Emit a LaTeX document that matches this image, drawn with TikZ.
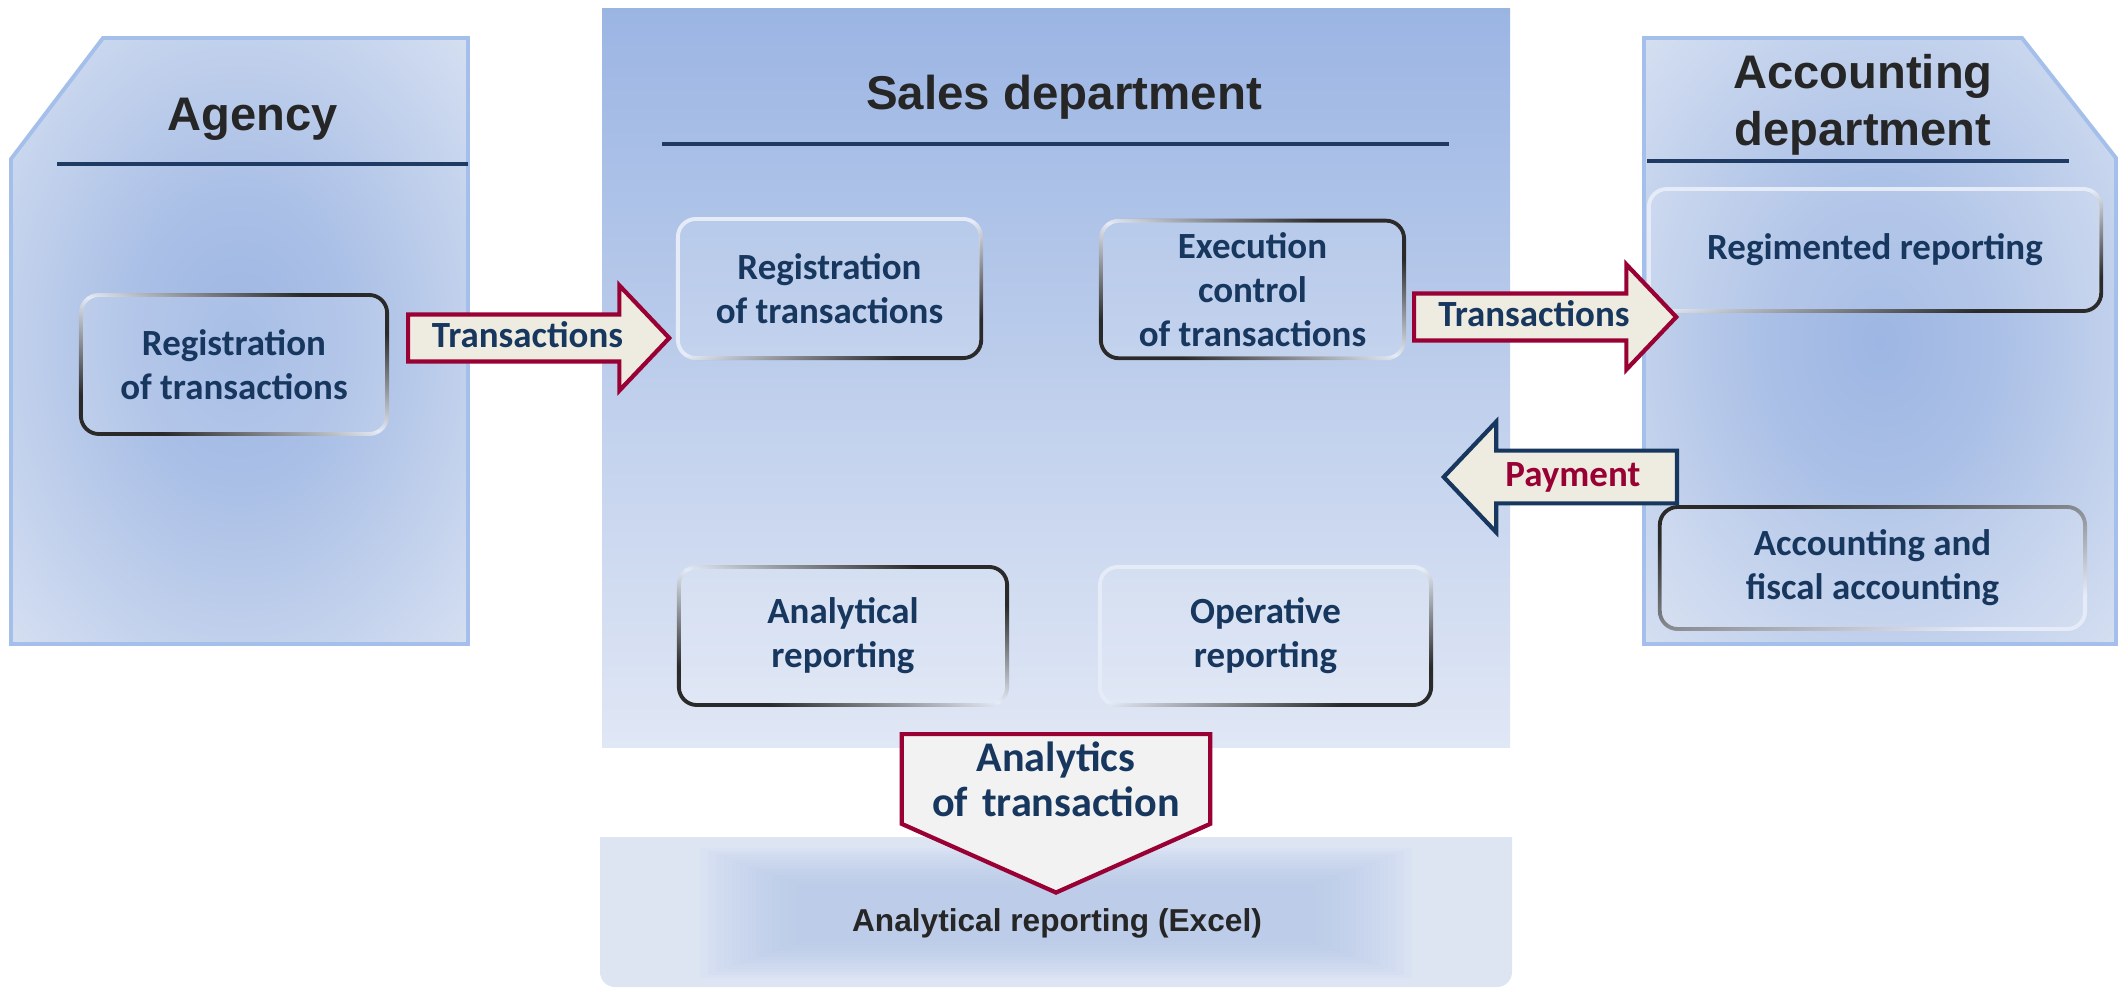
\documentclass[tikz,border=0pt]{standalone}
\usepackage{fontspec}
\setmainfont{Carlito}
\newfontfamily\headfont{Liberation Sans}
\usetikzlibrary{positioning,shapes.arrows,fadings}

\definecolor{navy}{HTML}{17375E}
\definecolor{maroon}{HTML}{990033}
\definecolor{cream}{HTML}{EEECE1}
\definecolor{rule}{HTML}{1F3B63}
\definecolor{rim}{HTML}{A4BFEA}
\definecolor{pcore}{HTML}{9DB6E3}
\definecolor{pedge}{HTML}{DDE5F3}
\definecolor{stop}{HTML}{9BB5E3}
\definecolor{sbot}{HTML}{E0E7F5}
\definecolor{ink}{HTML}{262626}
\definecolor{glow}{HTML}{B4C7E9}
\definecolor{xbase}{HTML}{DDE5F3}
\definecolor{lite}{HTML}{E6ECF7}
\definecolor{dark}{HTML}{2A2A2A}

\pgfdeclareradialshading{panelglow}{\pgfpoint{0bp}{0bp}}{color(0bp)=(pcore); color(12bp)=(pcore!80!pedge); color(40bp)=(pedge); color(60bp)=(pedge)}

\tikzfading[name=fadeone, left color=transparent!100, right color=transparent!0, middle color=transparent!100]
\tikzfading[name=fadetwo, left color=transparent!0, right color=transparent!0, middle color=transparent!100]
\tikzfading[name=fadeall, left color=transparent!100, right color=transparent!0]

\tikzset{
  panel/.style = {shading=panelglow, draw=rim, line width=1.1pt},
  headline/.style = {draw=rule, line width=1.2pt},
  title/.style = {font=\headfont\bfseries\fontsize{13.4}{16.2}\selectfont, text=ink, align=center, anchor=base},
  task/.style = {rectangle, rounded corners=0.18cm, draw=lite, line width=1.1pt, fill=white, fill opacity=0.12, text opacity=1, text=navy, font=\bfseries\fontsize{10.5}{12.5}\selectfont, align=center, outer sep=0pt},
  rimdark/.style = {draw=dark, line width=1.1pt, rounded corners=0.18cm},
  flow/.style = {single arrow, draw=maroon, fill=cream, line width=1.2pt, text=navy, font=\bfseries\fontsize{10.5}{12.5}\selectfont, single arrow head extend=0.29cm, single arrow tip angle=93, inner xsep=2pt},
  flowh/.style = {flow, text height=7.6pt, text depth=2.4pt, inner ysep=1.1pt}
}

\begin{document}
\begin{tikzpicture}[x=0.01cm, y=-0.01cm]
  \useasboundingbox (0,0) rectangle (2123,990);

  % agency
  \shadedraw[panel] (11,159) -- (103,38) -- (468,38) -- (468,644) -- (11,644) -- cycle;
  \node[title] (agtitle) at (253,130) {Agency};
  \draw[headline] (57,164) -- (468,164);

  % sales department
  \shade[top color=stop, bottom color=sbot] (602,8) rectangle (1510,747);
  \node[title, font=\headfont\bfseries\fontsize{13.5}{16}\selectfont] (saltitle) at (1064,109) {Sales department};
  \draw[headline] (662,144) -- (1449,144);

  % accounting department
  \shadedraw[panel] (1644,38) -- (2022,38) -- (2116,158) -- (2116,644) -- (1644,644) -- cycle;
  \node[title] (acctitle) at (1863,145) {Accounting\\department};
  \draw[headline] (1647,161) -- (2069,161);

  % excel
  \fill[xbase] (600,837) -- (1512,837) {[rounded corners=0.15cm] -- (1512,987) -- (600,987)} -- cycle;
  \foreach \i in {0,...,13}
    \fill[glow, opacity=0.09] (700+8*\i,848+3*\i) rectangle (1412-8*\i,978-3*\i);
  \node[font=\headfont\bfseries\fontsize{9}{11}\selectfont, text=ink] (excel) at (1057,923) {Analytical reporting (Excel)};

  % boxes
  \node[task, minimum width=3.06cm, minimum height=1.39cm] (agreg) at (234,364.5) {Registration\\of transactions};
  \node[task, minimum width=3.03cm, minimum height=1.39cm] (salreg) at (829.5,288.5) {Registration\\of transactions};
  \node[task, minimum width=3.03cm, minimum height=1.37cm] (exec) at (1252.5,289.5) {Execution\\control\\of transactions};
  \node[task, minimum width=3.28cm, minimum height=1.38cm] (anrep) at (843,636) {Analytical\\reporting};
  \node[task, minimum width=3.31cm, minimum height=1.38cm] (oprep) at (1265.5,636) {Operative\\reporting};
  \node[task, minimum width=4.52cm, minimum height=1.22cm] (regrep) at (1875,250) {Regimented reporting};
  \node[task, minimum width=4.25cm, minimum height=1.22cm] (fiscal) at (1872.5,568) {Accounting and\\fiscal accounting};

  \draw[rimdark, path fading=fadetwo, fading angle=45] (agreg.south west) rectangle (agreg.north east);
  \draw[rimdark, path fading=fadeone, fading angle=-45] (salreg.south west) rectangle (salreg.north east);
  \draw[rimdark, path fading=fadetwo, fading angle=45] (exec.south west) rectangle (exec.north east);
  \draw[rimdark, path fading=fadetwo, fading angle=45] (anrep.south west) rectangle (anrep.north east);
  \draw[rimdark, path fading=fadeone, fading angle=-45] (oprep.south west) rectangle (oprep.north east);
  \draw[rimdark, path fading=fadeone, fading angle=-45] (regrep.south west) rectangle (regrep.north east);
  \draw[rimdark, path fading=fadeall, fading angle=135] (fiscal.south west) rectangle (fiscal.north east);

  % arrows
  \node[flowh, minimum height=2.61cm, anchor=tail] (tr1) at (406,338) {Transactions};
  \node[flowh, minimum height=2.62cm, anchor=tail] (tr2) at (1412,317) {Transactions};
  \node[flowh, draw=navy, text=maroon, minimum height=2.33cm, anchor=tail, shape border rotate=180, inner ysep=1.9pt] (pay) at (1679,477) {Payment};
  \node[flow, fill=black!5, shape border rotate=270, single arrow head extend=0pt, single arrow tip angle=132, text width=2.9cm, align=center, inner ysep=1.5pt, minimum height=1.54cm, font=\bfseries\fontsize{12}{12.8}\selectfont, anchor=tail] (antr) at (1056,732) {Analytics\\of transaction};
\end{tikzpicture}
\end{document}
